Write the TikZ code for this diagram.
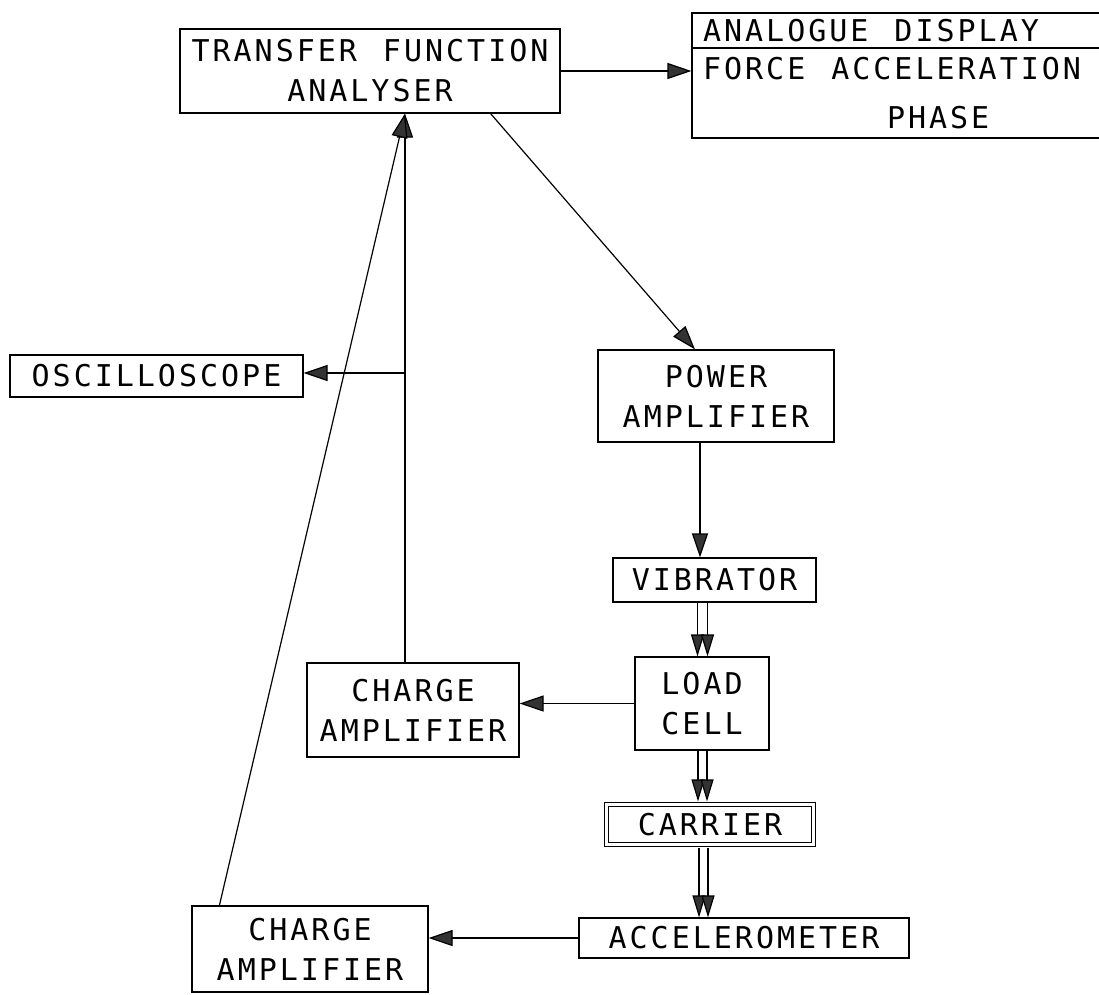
\documentclass[tikz,border=0pt]{standalone}
\usepackage{fontspec}
\newfontfamily\plotfont[LetterSpace=10]{DejaVu Sans Mono}
\newcommand\wsp{\hspace*{26pt}}
\usetikzlibrary{arrows.meta}
\begin{document}
\begin{tikzpicture}[x=1pt,y=-1pt,
  box/.style={draw, line width=1.2pt, inner sep=0pt, align=center,
    font=\plotfont\fontsize{30pt}{40pt}\selectfont},
  arr/.style={line width=1.2pt, -{Triangle[length=24pt,width=16pt,fill=black!80]}},
  darr/.style={line width=1.2pt, -{Triangle[length=22pt,width=13pt,fill=black!80]}},
  conn/.style={line width=1.2pt}]
\useasboundingbox (0,0) rectangle (1099,994);

\node[box, minimum width=380pt, minimum height=84pt] (tfa) at (370,71) {TRANSFER\wsp FUNCTION\\ANALYSER};
\node[box, minimum width=413pt, minimum height=35pt, text width=391pt, align=left] (dispT) at (898.5,30.5) {ANALOGUE\wsp DISPLAY};
\node[box, minimum width=413pt, minimum height=90pt, text width=391pt, align=left] (dispB) at (898.5,93) {FORCE\wsp ACCELERATION\\[9pt]\hspace*{184pt}PHASE};
\node[box, minimum width=293pt, minimum height=42pt] (osc) at (156.5,376) {OSCILLOSCOPE};
\node[box, minimum width=236pt, minimum height=92pt] (pa) at (716,396) {POWER\\AMPLIFIER};
\node[box, minimum width=203pt, minimum height=44pt] (vib) at (714.5,580) {VIBRATOR};
\node[box, minimum width=134pt, minimum height=93pt] (lc) at (702,703.5) {LOAD\\CELL};
\node[box, double, double distance=3pt, minimum width=206.8pt, minimum height=39.8pt] (car) at (710,824.5) {CARRIER};
\node[box, minimum width=330pt, minimum height=40pt] (acc) at (744,938) {ACCELEROMETER};
\node[box, minimum width=212pt, minimum height=94pt] (ca1) at (413,710) {CHARGE\\AMPLIFIER};
\node[box, minimum width=236pt, minimum height=86pt] (ca2) at (310,949) {CHARGE\\AMPLIFIER};

\coordinate (j) at (405,373);

\draw[arr] (tfa.east) -- (tfa.east -| dispB.west);
\draw[arr] ([xshift=-70pt]tfa.south east) -- ([xshift=-21pt]pa.north);
\draw[arr] ([xshift=-16pt]pa.south) -- ([xshift=-16pt]pa.south |- vib.north);
\draw[darr] ([xshift=-17pt]vib.south) -- ([xshift=-17pt]vib.south |- lc.north);
\draw[darr] ([xshift=-7pt]vib.south) -- ([xshift=-7pt]vib.south |- lc.north);
\draw[darr] ([xshift=-4pt]lc.south) -- ([xshift=-4pt,yshift=2.6pt]lc.south |- car.north);
\draw[darr] ([xshift=5pt]lc.south) -- ([xshift=5pt,yshift=2.6pt]lc.south |- car.north);
\draw[darr] ([xshift=-11pt,yshift=-2.6pt]car.south) -- ([xshift=-11pt]car.south |- acc.north);
\draw[darr] ([xshift=-2pt,yshift=-2.6pt]car.south) -- ([xshift=-2pt]car.south |- acc.north);
\draw[arr] (lc.west) -- (lc.west -| ca1.east);
\draw[arr] (acc.west) -- (acc.west -| ca2.east);
\draw[conn] (j |- ca1.north) -- (j);
\draw[arr] (j) -- (j |- tfa.south);
\draw[arr] (j) -- (j -| osc.east);
\draw[arr] ([xshift=28pt]ca2.north west) -- (j |- tfa.south);
\end{tikzpicture}
\end{document}
